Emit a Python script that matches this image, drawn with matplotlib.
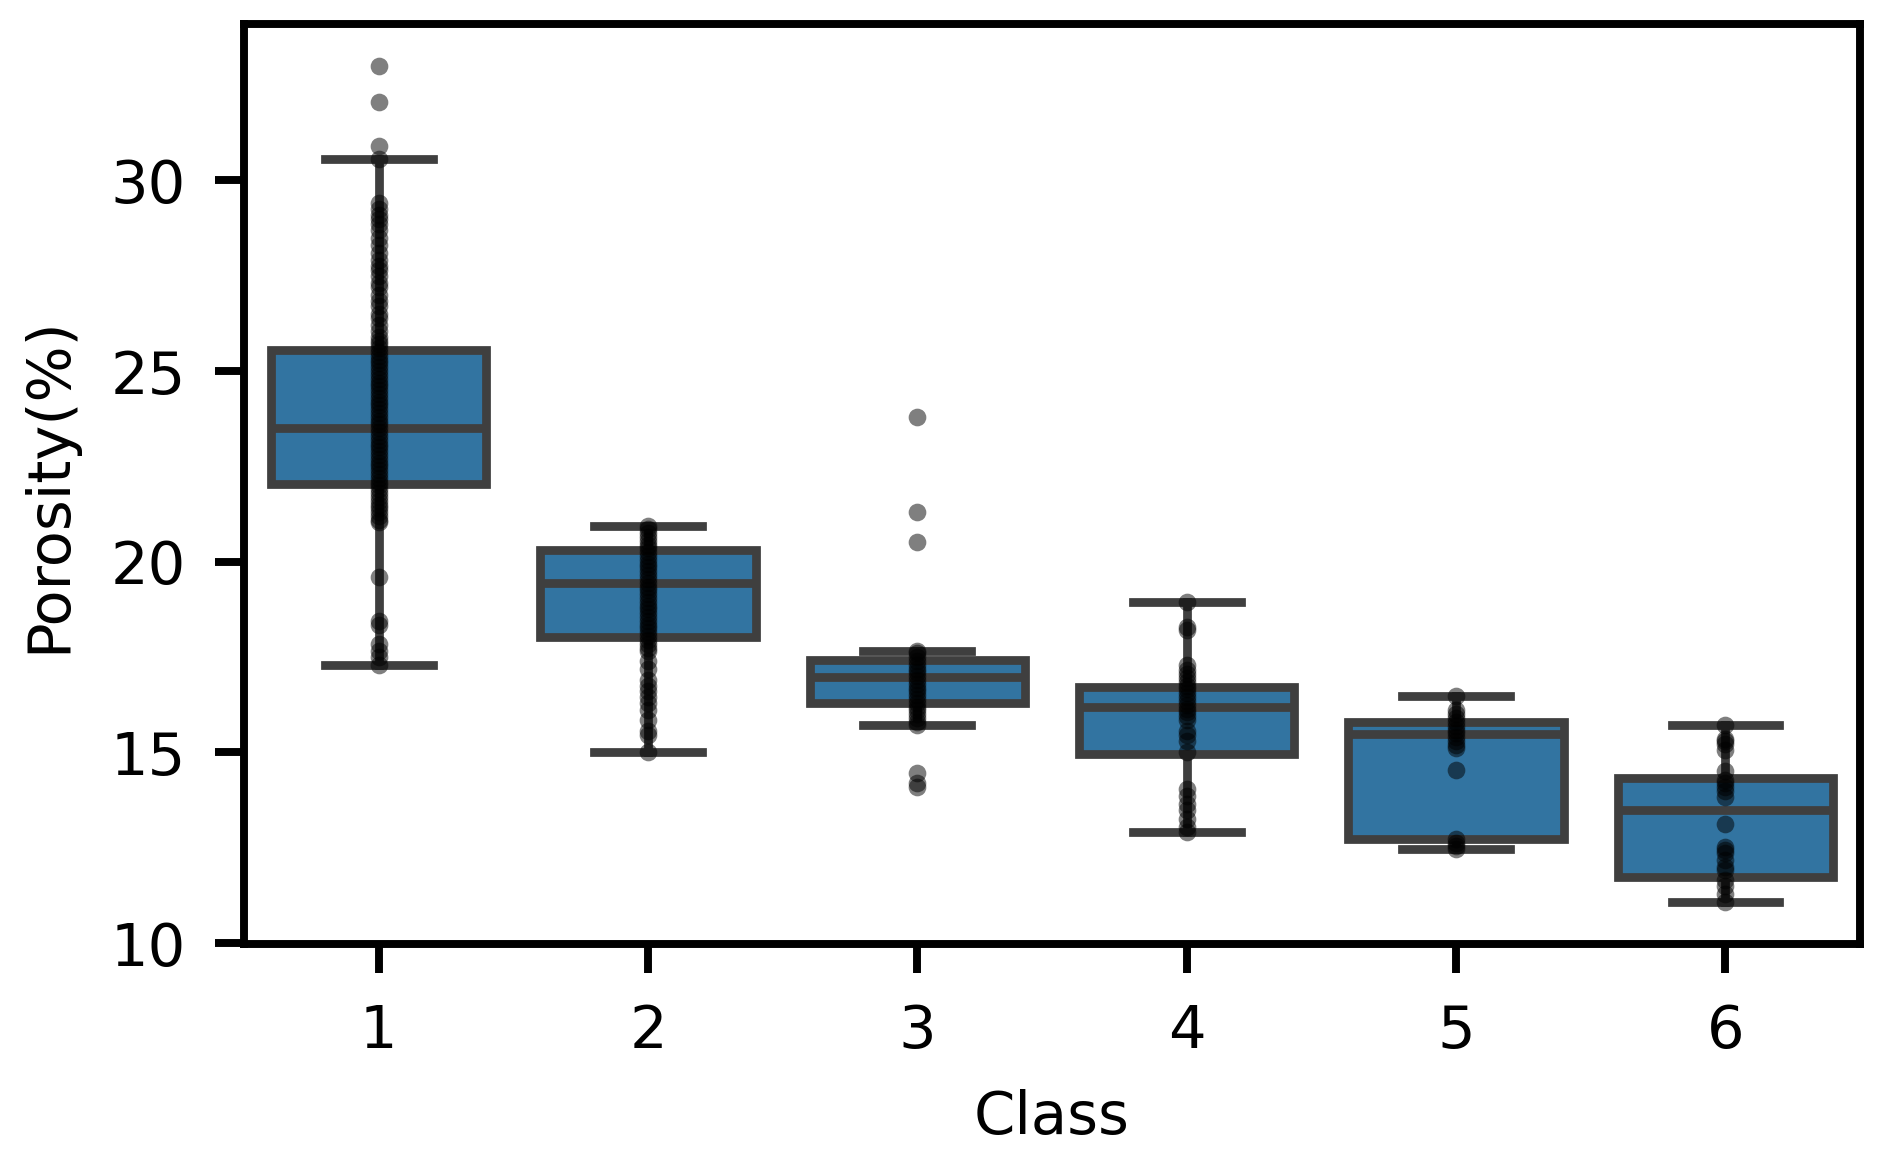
import matplotlib.pyplot as plt
import numpy as np

plt.rcParams["font.family"] = "DejaVu Sans"
plt.rcParams["font.size"] = 14.2

classes = ["1", "2", "3", "4", "5", "6"]

# box statistics
q1 = [22.04, 18.02, 16.29, 14.97, 12.73, 11.74]
med = [23.52, 19.45, 16.97, 16.2, 15.47, 13.48]
q3 = [25.55, 20.3, 17.43, 16.72, 15.79, 14.33]
whislo = [17.3, 15.0, 15.72, 12.91, 12.47, 11.07]
whishi = [30.55, 20.93, 17.66, 18.94, 16.48, 15.72]

# individual samples per class
pts_1 = [33.0, 32.05, 30.9, 30.55, 29.4, 29.25, 29.1, 29.0, 28.85, 28.7, 28.5,
         28.3, 28.1, 27.9, 27.75, 27.65, 27.5, 27.3, 27.2, 27.0, 26.85, 26.7,
         26.5, 26.4, 26.2, 26.05, 25.9, 25.8, 25.7, 25.6, 25.5, 25.4, 25.3,
         25.2, 25.1, 25.0, 24.9, 24.8, 24.7, 24.6, 24.5, 24.4, 24.3, 24.2,
         24.1, 24.0, 23.9, 23.8, 23.7, 23.6, 23.5, 23.4, 23.3, 23.2, 23.1,
         23.0, 22.9, 22.8, 22.7, 22.6, 22.5, 22.4, 22.3, 22.2, 22.1, 22.0,
         21.9, 21.8, 21.7, 21.6, 21.5, 21.4, 21.3, 21.2, 21.1, 21.05, 19.6,
         18.45, 18.35, 17.85, 17.65, 17.5, 17.3]
pts_2 = [20.93, 20.85, 20.75, 20.65, 20.55, 20.45, 20.35, 20.25, 20.15, 20.05,
         19.95, 19.85, 19.75, 19.65, 19.55, 19.45, 19.35, 19.25, 19.15, 19.05,
         18.95, 18.85, 18.75, 18.65, 18.55, 18.45, 18.35, 18.25, 18.15, 18.05,
         17.95, 17.85, 17.75, 17.65, 17.4, 17.2, 16.9, 16.75, 16.6, 16.45,
         16.3, 16.1, 15.85, 15.55, 15.45, 15.0]
pts_3 = [23.8, 21.3, 20.52, 17.66, 17.6, 17.5, 17.4, 17.3, 17.2, 17.1, 17.0,
         16.9, 16.8, 16.7, 16.6, 16.5, 16.4, 16.3, 16.2, 16.1, 16.0, 15.9,
         15.8, 15.72, 14.45, 14.2, 14.1]
pts_4 = [18.94, 18.3, 18.22, 17.3, 17.15, 17.05, 16.95, 16.85, 16.75, 16.65,
         16.55, 16.45, 16.35, 16.25, 16.15, 16.05, 15.95, 15.85, 15.55, 15.45,
         15.3, 15.0, 14.05, 13.85, 13.65, 13.5, 13.25, 13.05, 12.91]
pts_5 = [16.48, 16.1, 16.0, 15.9, 15.8, 15.7, 15.6, 15.5, 15.4, 15.3, 15.2,
         15.12, 14.55, 12.72, 12.62, 12.55, 12.47]
pts_6 = [15.72, 15.36, 15.3, 15.23, 15.06, 14.5, 14.28, 14.2, 14.1, 14.0,
         13.84, 13.12, 12.53, 12.45, 12.36, 12.18, 12.0, 11.92, 11.66, 11.5,
         11.3, 11.07]
points = [pts_1, pts_2, pts_3, pts_4, pts_5, pts_6]

box_color = "#3274a1"
line_color = "#3f3f3f"
lw = 2.1

stats = []
for i in range(len(classes)):
    stats.append(dict(q1=q1[i], med=med[i], q3=q3[i],
                      whislo=whislo[i], whishi=whishi[i], fliers=[]))

fig, ax = plt.subplots(figsize=(6.28, 3.857), dpi=300)
fig.subplots_adjust(left=0.1295, right=0.9873, bottom=0.184, top=0.979)

pos = np.arange(len(classes))
ax.bxp(stats, positions=pos, widths=0.8, capwidths=0.4, patch_artist=True,
       showfliers=False,
       boxprops=dict(facecolor=box_color, edgecolor=line_color, linewidth=lw),
       whiskerprops=dict(color=line_color, linewidth=lw),
       capprops=dict(color=line_color, linewidth=lw),
       medianprops=dict(color=line_color, linewidth=lw))

for i, vals in enumerate(points):
    ax.scatter(np.full(len(vals), pos[i]), vals, s=18, color="black",
               alpha=0.5, linewidths=0, zorder=3)

ax.set_xlim(-0.5, len(classes) - 0.5)
ax.set_xticks(pos)
ax.set_xticklabels(classes)
ax.set_yticks([10, 15, 20, 25, 30])
ax.set_xlabel("Class", labelpad=7)
ax.set_ylabel("Porosity(%)", labelpad=8)

for sp in ax.spines.values():
    sp.set_linewidth(1.9)
ax.tick_params(width=1.9, length=7, pad=7, labelsize=14.2)

fig.savefig("out.png", dpi=300)
